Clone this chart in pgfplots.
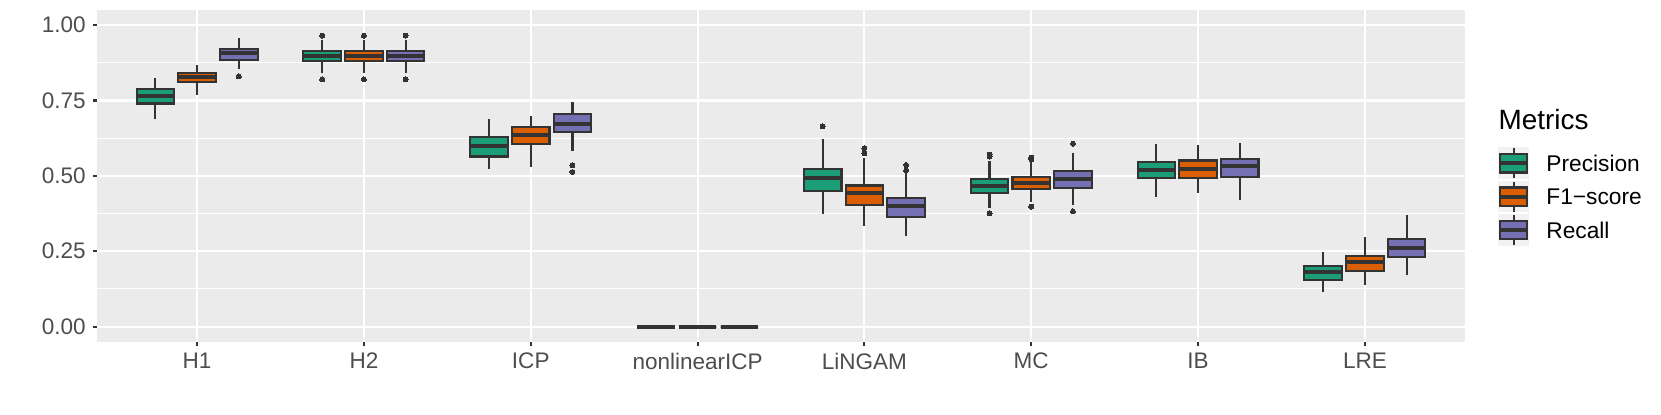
\documentclass[border=0pt]{standalone}
\usepackage{pgfplots}
\pgfplotsset{compat=1.18}
\usepgfplotslibrary{statistics}
\usepackage{fontspec}
\setmainfont{Liberation Sans}

\definecolor{panel}{HTML}{EBEBEB}
\definecolor{edge}{HTML}{333333}
\definecolor{lab}{HTML}{4D4D4D}
\definecolor{keybg}{HTML}{F2F2F2}
\definecolor{cprec}{HTML}{1B9E77}
\definecolor{cf1}{HTML}{D95F02}
\definecolor{crec}{HTML}{7570B3}

% #1 fill, #2 position, #3 lower whisker, #4 Q1, #5 median, #6 Q3, #7 upper whisker, #8 outliers
\newcommand{\bx}[8]{%
\addplot[draw=edge, fill=#1, line width=1.05bp, mark=*, mark size=1.25bp,
  mark options={fill=edge, draw=edge, line width=0pt},
  boxplot/draw direction=y,
  boxplot prepared={draw position=#2, lower whisker=#3, lower quartile=#4,
    median=#5, upper quartile=#6, upper whisker=#7,
    box extend=0.225, whisker extend=0}]
  coordinates {#8};}

\begin{document}
\begin{tikzpicture}
\useasboundingbox (-48.5bp,-36.65bp) rectangle (782bp,170.85bp);
\begin{axis}[
  at={(0,0)}, anchor=south west,
  scale only axis, width=684bp, height=165.85bp,
  xmin=0.4, xmax=8.6, ymin=-0.05, ymax=1.05,
  xtick={1,...,8},
  xticklabels={H1,H2,ICP,nonlinearICP,LiNGAM,MC,IB,LRE},
  ytick={0,0.25,0.5,0.75,1},
  yticklabels={0.00,0.25,0.50,0.75,1.00},
  minor ytick={0.125,0.375,0.625,0.875},
  xtick pos=bottom, ytick pos=left,
  tick align=outside, major tick length=2.1bp, minor tick length=0pt,
  tick style={draw=edge, line width=1.05bp},
  axis line style={draw=none},
  axis background/.style={fill=panel},
  xmajorgrids, ymajorgrids, yminorgrids,
  major grid style={white, line width=1.05bp},
  minor grid style={white, line width=0.53bp},
  ticklabel style={font=\fontsize{11.3}{13}\selectfont, text=lab},
  /pgf/number format/assume math mode=true,
  boxplot/every median/.style={line width=2bp},
  clip=false,
]
% H1
\bx{cprec}{0.75}{0.688}{0.740}{0.764}{0.787}{0.823}{}
\bx{cf1}{1.00}{0.769}{0.810}{0.828}{0.842}{0.867}{}
\bx{crec}{1.25}{0.853}{0.884}{0.909}{0.921}{0.956}{(1.25,0.830)}
% H2
\bx{cprec}{1.75}{0.840}{0.880}{0.897}{0.915}{0.952}{(1.75,0.820) (1.75,0.965)}
\bx{cf1}{2.00}{0.840}{0.880}{0.897}{0.915}{0.952}{(2,0.820) (2,0.965)}
\bx{crec}{2.25}{0.840}{0.880}{0.897}{0.915}{0.952}{(2.25,0.820) (2.25,0.965)}
% ICP
\bx{cprec}{2.75}{0.522}{0.564}{0.600}{0.628}{0.687}{}
\bx{cf1}{3.00}{0.530}{0.607}{0.634}{0.662}{0.698}{}
\bx{crec}{3.25}{0.582}{0.646}{0.672}{0.705}{0.745}{(3.25,0.535) (3.25,0.513)}
% nonlinearICP
\bx{cprec}{3.75}{0}{0}{0}{0}{0}{}
\bx{cf1}{4.00}{0}{0}{0}{0}{0}{}
\bx{crec}{4.25}{0}{0}{0}{0}{0}{}
% LiNGAM
\bx{cprec}{4.75}{0.373}{0.450}{0.492}{0.523}{0.623}{(4.75,0.664)}
\bx{cf1}{5.00}{0.335}{0.403}{0.443}{0.468}{0.558}{(5,0.592) (5,0.575)}
\bx{crec}{5.25}{0.302}{0.365}{0.401}{0.427}{0.508}{(5.25,0.536) (5.25,0.518)}
% MC
\bx{cprec}{5.75}{0.392}{0.442}{0.466}{0.490}{0.549}{(5.75,0.570) (5.75,0.564) (5.75,0.376)}
\bx{cf1}{6.00}{0.414}{0.456}{0.477}{0.497}{0.547}{(6,0.560) (6,0.555) (6,0.398)}
\bx{crec}{6.25}{0.403}{0.461}{0.491}{0.515}{0.577}{(6.25,0.607) (6.25,0.382)}
% IB
\bx{cprec}{6.75}{0.430}{0.494}{0.519}{0.545}{0.604}{}
\bx{cf1}{7.00}{0.444}{0.494}{0.524}{0.551}{0.601}{}
\bx{crec}{7.25}{0.419}{0.497}{0.531}{0.557}{0.608}{}
% LRE
\bx{cprec}{7.75}{0.115}{0.155}{0.180}{0.201}{0.246}{}
\bx{cf1}{8.00}{0.138}{0.185}{0.214}{0.235}{0.296}{}
\bx{crec}{8.25}{0.170}{0.230}{0.260}{0.291}{0.369}{}
\end{axis}
% legend
\node[anchor=base west, inner sep=0pt, font=\fontsize{14}{16}\selectfont] at (700.6bp,106.2bp) {Metrics};
\foreach \c/\y/\t in {cprec/89.2/Precision, cf1/72.5/F1−score, crec/55.85/Recall} {
  \fill[keybg] (700.5bp,\y bp-7.9bp) rectangle (716.2bp,\y bp+7.9bp);
  \draw[edge, line width=1.05bp] (708.3bp,\y bp-7.5bp) -- (708.3bp,\y bp+7.5bp);
  \draw[edge, fill=\c, line width=1.05bp] (701.5bp,\y bp-4.6bp) rectangle (715.1bp,\y bp+4.6bp);
  \draw[edge, line width=2bp] (701.5bp,\y bp) -- (715.1bp,\y bp);
  \node[anchor=west, inner sep=0pt, font=\fontsize{11.4}{13}\selectfont] at (724.5bp,\y bp) {\t};
}
\end{tikzpicture}
\end{document}
